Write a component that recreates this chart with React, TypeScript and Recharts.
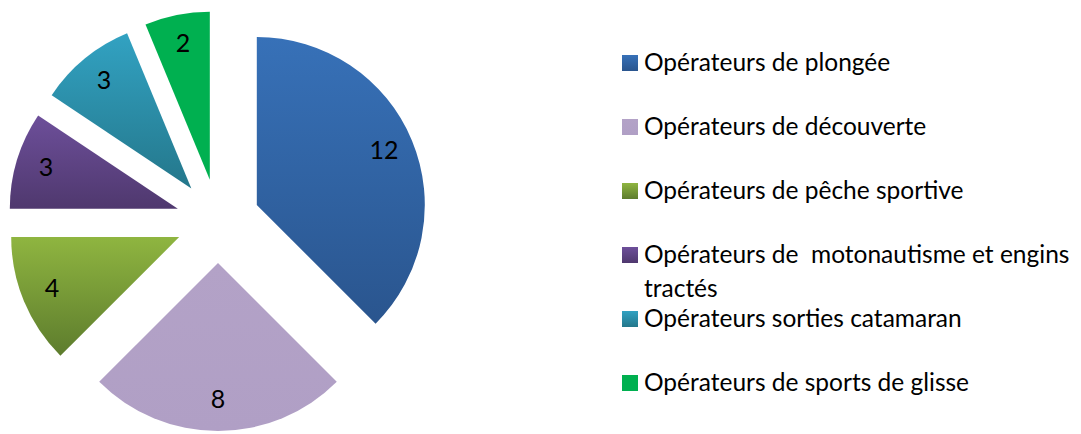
import React from 'react';
import { PieChart, Pie, Cell, Sector, Legend } from 'recharts';

const NAMES = [
  'Opérateurs de plongée',
  'Opérateurs de découverte',
  'Opérateurs de pêche sportive',
  'Opérateurs de  motonautisme et engins tractés',
  'Opérateurs sorties catamaran',
  'Opérateurs de sports de glisse',
];
const VALUES = [12, 8, 4, 3, 3, 2];
const TOP_COLORS = ['#3771B8', '#B3A2C7', '#8FB540', '#6D4F9A', '#32A2C2', '#00B050'];
const BOTTOM_COLORS = ['#2A558E', '#B09FC5', '#5D7C2D', '#4F386E', '#24778B', '#00B050'];

const data = NAMES.map((name, i) => ({ name, value: VALUES[i] }));

const EXPLODE = 42;
const RAD = Math.PI / 180;
const FONT = 'Lato, "Open Sans", sans-serif';

const renderShape = (props: any) => {
  const { cx, cy, midAngle, innerRadius, outerRadius, startAngle, endAngle, index } = props;
  const ox = cx + EXPLODE * Math.cos(midAngle * RAD);
  const oy = cy - EXPLODE * Math.sin(midAngle * RAD);
  return (
    <Sector
      cx={ox}
      cy={oy}
      innerRadius={innerRadius}
      outerRadius={outerRadius}
      startAngle={startAngle}
      endAngle={endAngle}
      fill={`url(#grad${index ?? 0})`}
      stroke="none"
    />
  );
};

const renderLabel = (props: any) => {
  const { cx, cy, midAngle, outerRadius, value } = props;
  const r = EXPLODE + outerRadius * 0.82;
  const x = cx + r * Math.cos(midAngle * RAD);
  const y = cy - r * Math.sin(midAngle * RAD);
  return (
    <text x={x} y={y - 3} textAnchor="middle" dominantBaseline="central" fill="#000" fontSize={25} fontFamily={FONT}>
      {value}
    </text>
  );
};

const renderLegend = () => {
  return (
    <div style={{ position: 'relative', width: 456, height: 434 }}>
      {NAMES.map((name, i) => (
        <div
          key={name}
          style={{
            position: 'absolute',
            left: 0,
            top: 62 + 64 * i - 17,
            width: 456,
            display: 'flex',
            alignItems: 'flex-start',
          }}
        >
          <div
            style={{
              width: 16,
              height: 16,
              marginTop: 10,
              marginRight: 6,
              flex: '0 0 16px',
              background: `linear-gradient(${TOP_COLORS[i]}, ${BOTTOM_COLORS[i]})`,
            }}
          />
          <div
            style={{
              fontFamily: FONT,
              fontSize: 24.5,
              lineHeight: '34px',
              color: '#000',
              whiteSpace: 'pre-wrap',
              width: 434,
            }}
          >
            {name}
          </div>
        </div>
      ))}
    </div>
  );
};

export default function App() {
  return (
    <div style={{ position: 'absolute', left: 0, top: 0, width: 1081, height: 434, background: '#fff', overflow: 'hidden' }}>
      <PieChart width={1081} height={434} margin={{ top: 0, right: 0, bottom: 0, left: 0 }}>
        <defs>
          {TOP_COLORS.map((c, i) => (
            <linearGradient key={i} id={`grad${i}`} x1="0" y1="0" x2="0" y2="1">
              <stop offset="0%" stopColor={c} />
              <stop offset="100%" stopColor={BOTTOM_COLORS[i]} />
            </linearGradient>
          ))}
        </defs>
        <Pie
          data={data}
          dataKey="value"
          nameKey="name"
          cx={218}
          cy={221}
          outerRadius={168}
          startAngle={90}
          endAngle={-270}
          stroke="none"
          isAnimationActive={false}
          shape={renderShape}
          activeShape={renderShape}
          inactiveShape={renderShape}
          label={renderLabel}
          labelLine={false}
        >
          {data.map((d, i) => (
            <Cell key={d.name} fill={TOP_COLORS[i]} />
          ))}
        </Pie>
        <Legend
          content={renderLegend}
          wrapperStyle={{ position: 'absolute', left: 622, top: 0, width: 456, height: 434 }}
        />
      </PieChart>
    </div>
  );
}
